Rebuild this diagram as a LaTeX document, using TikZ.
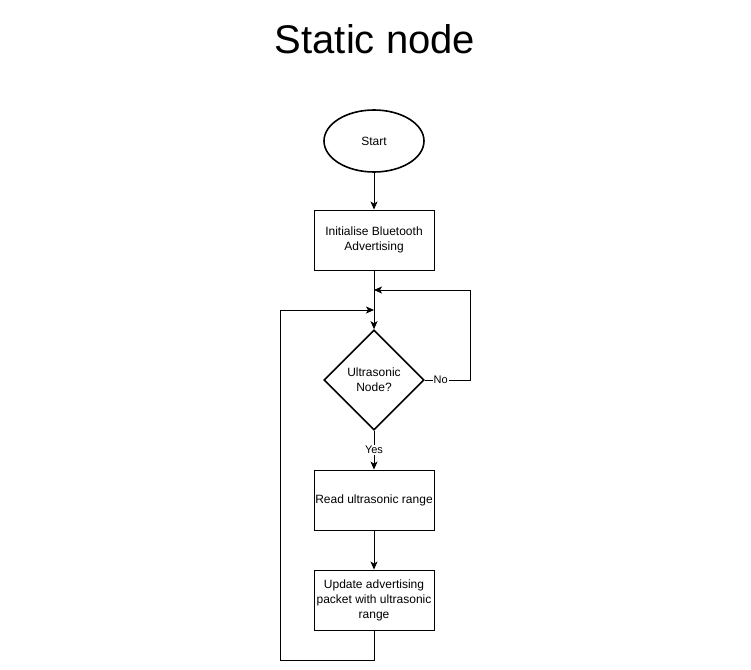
\documentclass[tikz,border=0pt]{standalone}
\usepackage{fontspec}
\setmainfont{Liberation Sans}
\usetikzlibrary{shapes.geometric, arrows.meta}

\begin{document}
\begin{tikzpicture}[
    x=1pt, y=-1pt,
    font=\fontsize{12}{15}\selectfont,
    terminal/.style={ellipse, draw, line width=1.6pt, minimum width=100pt, minimum height=62pt, inner sep=0pt},
    process/.style={rectangle, draw, line width=0.9pt, minimum width=120pt, minimum height=60pt, align=center, inner xsep=0pt, inner ysep=2pt},
    decision/.style={diamond, draw, line width=1.6pt, minimum width=100pt, minimum height=100pt, inner sep=0pt, align=center},
    flow/.style={draw, line width=0.9pt, -{Stealth[length=8pt, width=7pt, inset=2pt]}},
    edgelabel/.style={fill=white, inner sep=1pt, font=\fontsize{11}{13}\selectfont}
]
    \useasboundingbox (0,0) rectangle (751,669);
    \node[font=\fontsize{40}{46}\selectfont] (title) at (375,39) {Static node};

    \node[terminal] (start) at (374,141) {Start};
    \node[process] (init) at (374,240) {Initialise Bluetooth\\Advertising};
    \node[decision] (ultra) at (374,380) {Ultrasonic\\Node?};
    \node[process] (read) at (374,500) {Read ultrasonic range};
    \node[process] (update) at (374,600) {Update advertising\\packet with ultrasonic\\range};

    \coordinate (merge1) at (374,290);
    \coordinate (merge2) at (374,310);
    \coordinate (noturn) at (470,380);
    \coordinate (loopturn) at (280,660);

    \draw[flow] (start) -- (init);
    \draw[flow] (init) -- (ultra);
    \draw[flow] (ultra.east) -- node[edgelabel, pos=0.35] {No} (noturn) |- (merge1);
    \draw[flow] (ultra) -- node[edgelabel] {Yes} (read);
    \draw[flow] (read) -- (update);
    \draw[flow] (update.south) |- (loopturn) |- (merge2);
\end{tikzpicture}
\end{document}
